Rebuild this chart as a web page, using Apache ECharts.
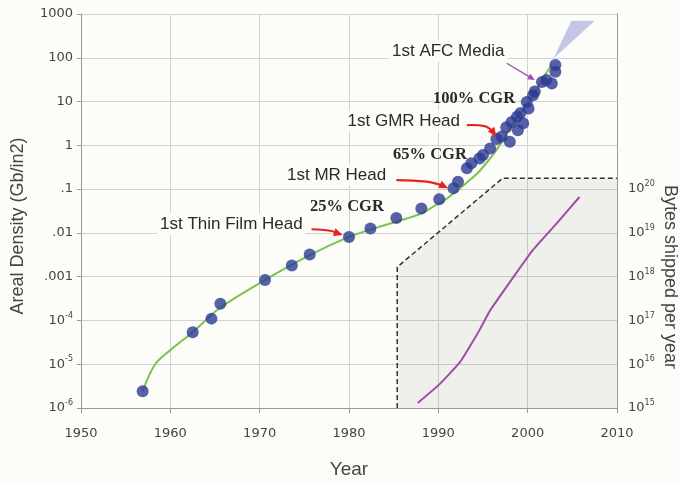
<!DOCTYPE html>
<html><head><meta charset="utf-8">
<script src="https://cdn.jsdelivr.net/npm/echarts@6/dist/echarts.min.js"></script>
<style>html,body{margin:0;padding:0;background:#fcfcf8}#c{width:680px;height:482px}</style>
</head><body><div id="c"></div>
<script>
// ---------- data ----------
const xTickYears = [1950, 1960, 1970, 1980, 1990, 2000, 2010];
const leftTickExps = [3, 2, 1, 0, -1, -2, -3, -4, -5, -6];
const leftTickTexts = ['1000', '100', '10', '1', '.1', '.01', '.001', '10^-4', '10^-5', '10^-6'];
const rightTickExps = [15, 16, 17, 18, 19, 20];
const rightTickTexts = ['10^15', '10^16', '10^17', '10^18', '10^19', '10^20'];

const dotYears = [1956.9, 1962.5, 1964.6, 1965.6, 1970.6, 1973.6, 1975.6, 1980.0, 1982.4, 1985.3,
  1988.1, 1990.1, 1991.7, 1992.2, 1993.2, 1993.7, 1994.6, 1995.0, 1995.8, 1996.5,
  1997.1, 1998.0, 1997.6, 1998.2, 1998.8, 1999.2, 1999.5, 1998.9, 2000.1, 1999.9,
  2000.6, 2000.8, 2001.6, 2002.1, 2002.7, 2003.1, 2003.1];
const dotDensity = [2.4e-6, 5.4e-5, 1.1e-4, 2.4e-4, 8.4e-4, 1.8e-3, 3.2e-3, 8.1e-3, 1.26e-2, 2.2e-2,
  3.6e-2, 5.9e-2, 0.104, 0.148, 0.30, 0.39, 0.5, 0.6, 0.85, 1.4,
  1.6, 1.2, 2.6, 3.4, 4.5, 5.5, 3.2, 2.2, 6.9, 9.8,
  14, 17, 28, 31, 26, 48, 68];

const fitYears = [1956.9, 1958.3, 1960, 1962.5, 1965.5, 1970.6, 1975.6, 1980, 1983, 1985.3,
  1988.1, 1990.1, 1991, 1993.5, 1994.7, 1996.5, 1998.4, 2000.3, 2001.8, 2002.7];
const fitDensity = [2.4e-6, 1e-5, 2.1e-5, 5.4e-5, 1.9e-4, 8.4e-4, 3.1e-3, 8.1e-3, 1.3e-2, 1.8e-2,
  2.8e-2, 4.8e-2, 6.2e-2, 0.16, 0.27, 0.78, 3.2, 11, 36, 70];

const shipYears = [1987.7, 1990.2, 1992.4, 1993.6, 1994.7, 1995.8, 1998.4, 2000.6, 2003.3, 2005.8];
const shipBytes = [1.3e15, 3.6e15, 1.1e16, 2.7e16, 6.5e16, 1.7e17, 9.8e17, 4.1e18, 1.7e19, 6.6e19];

const regionYears = [1985.4, 1985.4, 1997.2, 2010];
const regionBytes = [1e15, 1.66e18, 1.78e20, 1.78e20];

const wedgeYears = [2002.9, 2004.9, 2007.5];
const wedgeDensity = [96, 700, 700];

// annotation arrows (data coords on the density axis)
const arrowAFC = [[1997.65, 75], [2000.8, 31]];
const arrowGMR = [[1993.2, 2.9], [1995.2, 2.75], [1996.0, 2.2], [1996.5, 1.6]];
const arrowMR = [[1985.3, 0.161], [1988.7, 0.148], [1990.3, 0.125], [1991.1, 0.105]];
const arrowThin = [[1975.8, 0.0121], [1977.9, 0.0112], [1979.3, 0.0090]];

// ---------- chart ----------
const chart = echarts.init(document.getElementById('c'), null, {renderer: 'canvas'});
const FONT = 'DejaVu Sans';
function expOf(v) { return Math.round(Math.log10(v)); }
function richLabel(t) {
  if (t.indexOf('^') >= 0) { const p = t.split('^'); return '{b|' + p[0] + '}{s|' + p[1] + '}'; }
  return '{b|' + t + '}';
}
const richStyle = {
  b: {fontSize: 13, fontFamily: FONT, color: '#444', lineHeight: 18},
  s: {fontSize: 8, fontFamily: FONT, color: '#444', lineHeight: 10, verticalAlign: 'top'}
};
function pairs(xs, ys) { return xs.map((x, i) => [x, ys[i]]); }

chart.setOption({
  backgroundColor: '#fcfcf8',
  animation: false,
  grid: {left: 81, right: 63, top: 14, bottom: 74},
  xAxis: {
    type: 'value', min: 1950, max: 2010, interval: 10,
    axisLine: {show: true, lineStyle: {color: '#999'}},
    axisTick: {show: true, length: 5, lineStyle: {color: '#999'}},
    axisLabel: {margin: 19, fontSize: 13, fontFamily: FONT, color: '#444',
      formatter: v => (xTickYears.indexOf(v) >= 0 ? String(v) : '')},
    splitLine: {show: true, lineStyle: {color: '#d2d2d2', width: 1}}
  },
  yAxis: [{
    type: 'log', logBase: 10, min: 1e-6, max: 1000, splitNumber: 9,
    axisLine: {show: true, lineStyle: {color: '#999'}},
    axisTick: {show: true, length: 4, lineStyle: {color: '#999'}},
    minorTick: {show: false},
    axisLabel: {margin: 8, rich: richStyle, formatter: v => {
      const i = leftTickExps.indexOf(expOf(v));
      return i >= 0 ? richLabel(leftTickTexts[i]) : '';
    }},
    splitLine: {show: true, lineStyle: {color: '#d2d2d2', width: 1}}
  }, {
    type: 'log', logBase: 10, min: 1e15, max: 1e24, splitNumber: 9, position: 'right',
    axisLine: {show: true, lineStyle: {color: '#999'}},
    axisTick: {show: false},
    minorTick: {show: false},
    axisLabel: {margin: 11, rich: richStyle, formatter: v => {
      const i = rightTickExps.indexOf(expOf(v));
      return i >= 0 ? richLabel(rightTickTexts[i]) : '';
    }},
    splitLine: {show: false}
  }],
  series: [{
    type: 'custom', yAxisIndex: 1, silent: true, z: 1, clip: false,
    data: pairs(regionYears, regionBytes).concat([[2010, 1e15]]),
    renderItem: (params, api) => {
      if (params.dataIndex !== 0) return null;
      const pts = regionYears.map((y, i) => api.coord([y, regionBytes[i]]));
      pts.push(api.coord([2010, 1e15]));
      return {type: 'polygon', shape: {points: pts}, style: {fill: 'rgba(0,0,0,0.05)'}};
    }
  }, {
    type: 'line', yAxisIndex: 1, silent: true, z: 2, symbol: 'none',
    data: pairs(regionYears, regionBytes),
    lineStyle: {color: '#333', width: 1.5, type: [5, 3]}
  }, {
    type: 'line', yAxisIndex: 1, silent: true, z: 3, symbol: 'none', smooth: 0.15,
    data: pairs(shipYears, shipBytes),
    lineStyle: {color: '#a24aa8', width: 2}
  }, {
    type: 'custom', yAxisIndex: 0, silent: true, z: 3, clip: false,
    data: pairs(wedgeYears, wedgeDensity),
    renderItem: (params, api) => {
      if (params.dataIndex !== 0) return null;
      const pts = wedgeYears.map((y, i) => api.coord([y, wedgeDensity[i]]));
      return {type: 'polygon', shape: {points: pts}, style: {fill: '#c4c6e8'}};
    }
  }, {
    type: 'line', yAxisIndex: 0, silent: true, z: 4, symbol: 'none', smooth: 0.35,
    data: pairs(fitYears, fitDensity),
    lineStyle: {color: '#7cc24c', width: 2}
  }, {
    type: 'scatter', yAxisIndex: 0, z: 10, symbolSize: 12,
    data: pairs(dotYears, dotDensity),
    itemStyle: {color: '#2c3a92'}
  }]
});

// ---------- annotations ----------
function toPx(p) { return chart.convertToPixel({xAxisIndex: 0, yAxisIndex: 0}, p); }
function arrow(dataPts, color, width, head) {
  const pts = dataPts.map(toPx);
  const a = pts[pts.length - 2], b = pts[pts.length - 1];
  const ang = Math.atan2(b[1] - a[1], b[0] - a[0]);
  const L = head, W = head * 0.45;
  const base = [b[0] - L * Math.cos(ang), b[1] - L * Math.sin(ang)];
  const lineEnd = [b[0] - L * 0.8 * Math.cos(ang), b[1] - L * 0.8 * Math.sin(ang)];
  const linePts = pts.slice(0, -1).concat([lineEnd]);
  return [
    {type: 'polyline', z: 50, shape: {points: linePts, smooth: 0.4}, style: {stroke: color, lineWidth: width, fill: null}},
    {type: 'polygon', z: 50, shape: {points: [b,
      [base[0] + W * Math.sin(ang), base[1] - W * Math.cos(ang)],
      [base[0] - W * Math.sin(ang), base[1] + W * Math.cos(ang)]]}, style: {fill: color}}
  ];
}
function label(text, x, y, font, align, bg) {
  return {type: 'text', z: 40, x: x, y: y, style: {text: text, font: font, fill: '#2a2a2a',
    align: align || 'left', verticalAlign: 'middle',
    backgroundColor: bg ? '#fcfcf8' : null, padding: bg ? [2, 3, 2, 3] : 0}};
}
const SANS = '17px "Liberation Sans"';
const SERIF = 'bold 16.5px "Liberation Serif"';
const g = [];
g.push(label('1st AFC Media', 389, 51, SANS, 'left', true));
g.push(label('100% CGR', 433, 99, SERIF, 'left', false));
g.push(label('1st GMR Head', 463, 121, SANS, 'right', true));
g.push(label('65% CGR', 393, 155, SERIF, 'left', false));
g.push(label('1st MR Head', 284, 175, SANS, 'left', true));
g.push(label('25% CGR', 310, 207, SERIF, 'left', false));
g.push(label('1st Thin Film Head', 157, 224, SANS, 'left', true));
arrow(arrowAFC, '#a050b0', 1.3, 7).forEach(e => g.push(e));
arrow(arrowGMR, '#e8231f', 2.2, 9).forEach(e => g.push(e));
arrow(arrowMR, '#e8231f', 2.2, 9).forEach(e => g.push(e));
arrow(arrowThin, '#e8231f', 2.2, 9).forEach(e => g.push(e));
// axis titles
g.push({type: 'text', z: 40, x: 18, y: 226, rotation: Math.PI / 2,
  style: {text: 'Areal Density (Gb/in2)', font: '18px "Liberation Sans"', fill: '#444', align: 'center', verticalAlign: 'middle'}});
g.push({type: 'text', z: 40, x: 349, y: 470,
  style: {text: 'Year', font: '19px "Liberation Sans"', fill: '#444', align: 'center', verticalAlign: 'middle'}});
g.push({type: 'text', z: 40, x: 670, y: 277, rotation: -Math.PI / 2,
  style: {text: 'Bytes shipped per year', font: '18px "Liberation Sans"', fill: '#444', align: 'center', verticalAlign: 'middle'}});
chart.setOption({graphic: g});
</script></body></html>
